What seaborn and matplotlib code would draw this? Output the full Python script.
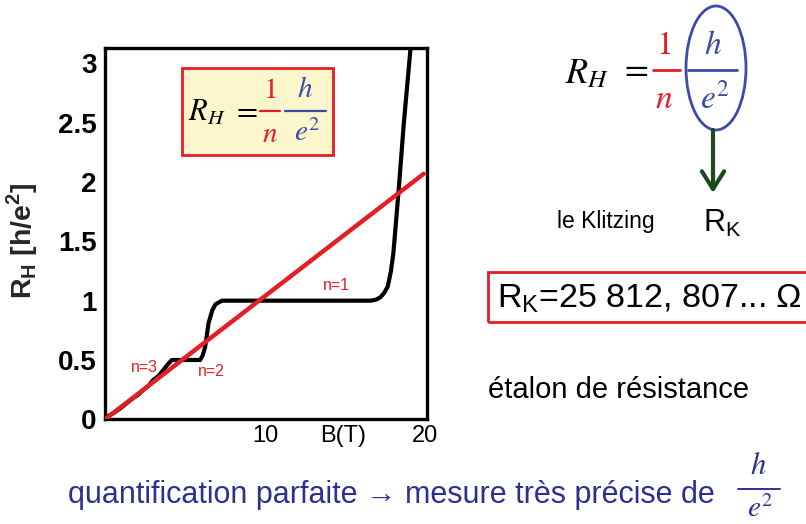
import matplotlib
matplotlib.use("Agg")
import matplotlib.pyplot as plt
import seaborn as sns
import pandas as pd
from matplotlib.lines import Line2D
from matplotlib.patches import Rectangle, Ellipse, FancyArrowPatch

# ---- data ----
B_curve = [0.0, 0.1, 0.5, 0.94, 1.3, 1.77, 2.1, 2.4, 2.7, 3.0, 3.3, 3.64, 3.9, 4.17,
           5.0, 5.94, 6.1, 6.25, 6.35, 6.46, 6.7, 6.9, 7.3, 10.0, 14.0, 16.6, 16.95, 17.2,
           17.45, 17.65, 17.85, 18.0, 18.33, 18.65, 19.06, 19.15]
R_curve = [0.0, 0.02, 0.05, 0.09, 0.13, 0.18, 0.21, 0.25, 0.28, 0.33, 0.36, 0.415, 0.46, 0.5,
           0.5, 0.5, 0.54, 0.61, 0.70, 0.81, 0.92, 0.97, 1.0, 1.0, 1.0, 1.0, 1.01, 1.03,
           1.07, 1.12, 1.25, 1.40, 1.93, 2.49, 3.11, 3.25]
B_line = [0.0, 19.9]
R_line = [0.0, 2.07]
y_ticks = [0, 0.5, 1, 1.5, 2, 2.5, 3]
y_tick_labels = ["0", "0.5", "1", "1.5", "2", "2.5", "3"]
x_ticks = [10, 20]
x_tick_labels = ["10", "20"]
plateau_labels = ["n=1", "n=2", "n=3"]

df_curve = pd.DataFrame({"B": B_curve, "R": R_curve})
df_line = pd.DataFrame({"B": B_line, "R": R_line})

sns.set_theme(style="white")
plt.rcParams["font.family"] = ["Liberation Sans", "DejaVu Sans"]
plt.rcParams["mathtext.fontset"] = "custom"
plt.rcParams["mathtext.rm"] = "Liberation Sans"
plt.rcParams["mathtext.bf"] = "Liberation Sans:bold"

W, H = 806, 524
fig = plt.figure(figsize=(W / 100, H / 100), dpi=100)
fig.patch.set_facecolor("white")

L, R_, T_, Bt = 105, 427, 48, 419.3
ax = fig.add_axes([L / W, 1 - Bt / H, (R_ - L) / W, (Bt - T_) / H])
ax.set_facecolor("white")

RED = "#E31E24"
BLUE = "#3B4BA6"
DBLUE = "#2D3090"
GREEN = "#1C4A1C"

sns.lineplot(data=df_curve, x="B", y="R", sort=False, color="black", lw=3, ax=ax, zorder=2)
sns.lineplot(data=df_line, x="B", y="R", sort=False, color=RED, lw=3.2, ax=ax, zorder=3)

ax.set_xlim(0, 20.1)
ax.set_ylim(0, 3.13)
for s in ax.spines.values():
    s.set_linewidth(2.4)
    s.set_color("black")
ax.set_yticks(y_ticks)
ax.set_yticklabels(y_tick_labels, fontsize=20, fontweight="bold")
ax.set_xticks(x_ticks)
ax.set_xticklabels(x_tick_labels, fontsize=17)
ax.tick_params(axis="y", direction="in", length=12, width=2.2, pad=6, colors="black")
ax.tick_params(axis="x", direction="in", length=13, width=2.2, pad=4, colors="black")
ax.set_xlabel("")
ax.set_ylabel(r"R$_\mathbf{H}$ [h/e$^\mathbf{2}$]", fontsize=20.5, fontweight="bold")
ax.yaxis.set_label_coords(-0.203, 0.48)


def P(x, y):
    return (x / W, 1 - y / H)


def T(x, y, s, **kw):
    kw.setdefault("ha", "center")
    kw.setdefault("va", "center")
    return fig.text(x / W, 1 - y / H, s, **kw)


def HL(x1, x2, y, color, lw=1.6):
    fig.add_artist(Line2D([x1 / W, x2 / W], [1 - y / H, 1 - y / H],
                          transform=fig.transFigure, color=color, lw=lw, zorder=6))


# B(T) label
T(343, 436, "B(T)", fontsize=17, color="black")

# plateau labels
T(336, 285, plateau_labels[0], fontsize=11.5, color=RED)
T(211, 371, plateau_labels[1], fontsize=11.5, color=RED)
T(144, 367, plateau_labels[2], fontsize=11.5, color=RED)

# formula box in plot
fig.add_artist(Rectangle(P(182, 155), 151 / W, 87 / H, transform=fig.transFigure,
                         facecolor="#FBF6CC", edgecolor=RED, lw=2, zorder=5))
mf = "stix"
T(207, 113, r"$R_H$", fontsize=22, color="black", math_fontfamily=mf, zorder=7)
T(245, 111, r"$=$", fontsize=22, color="black", math_fontfamily=mf, zorder=7)
T(270, 90, r"$1$", fontsize=21, color=RED, math_fontfamily=mf, zorder=7)
HL(260, 280, 111, RED)
T(270, 134, r"$n$", fontsize=21, color=RED, math_fontfamily=mf, zorder=7)
T(305, 89, r"$h$", fontsize=21, color=BLUE, math_fontfamily=mf, zorder=7)
HL(285, 326, 111, BLUE)
T(307, 133, r"$e^2$", fontsize=21, color=BLUE, math_fontfamily=mf, zorder=7)

# right formula
T(587, 74, r"$R_H$", fontsize=26, color="black", math_fontfamily=mf)
T(634, 69, r"$=$", fontsize=25, color="black", math_fontfamily=mf)
T(664, 46, r"$1$", fontsize=24, color=RED, math_fontfamily=mf)
HL(653, 680, 70, RED, lw=2)
T(664, 100, r"$n$", fontsize=24, color=RED, math_fontfamily=mf)
T(713, 45, r"$h$", fontsize=24, color=BLUE, math_fontfamily=mf)
HL(688, 737, 70, BLUE, lw=2)
T(715, 99, r"$e^2$", fontsize=24, color=BLUE, math_fontfamily=mf)
fig.add_artist(Ellipse(P(716, 68), 60 / W, 124 / H, transform=fig.transFigure,
                       fill=False, edgecolor=BLUE, lw=2, zorder=6))
fig.add_artist(FancyArrowPatch(
    P(713, 130), P(713, 193), transform=fig.transFigure,
    arrowstyle="->,head_length=8,head_width=5", color=GREEN, lw=3, zorder=6,
    mutation_scale=1.6, shrinkA=0, shrinkB=0))

T(557, 228, "le Klitzing", fontsize=16.5, color="black", ha="left", va="baseline")
T(703, 232, r"R$_\mathrm{K}$", fontsize=22, color="black", ha="left", va="baseline")

# R_K box
fig.add_artist(Rectangle(P(488, 322), 330 / W, 50 / H, transform=fig.transFigure,
                         facecolor="none", edgecolor=RED, lw=2, zorder=5))
T(497, 307, r"R$_\mathrm{K}$=25 812, 807... Ω", fontsize=24.5, color="black",
  ha="left", va="baseline")

T(488, 398, "étalon de résistance", fontsize=21, color="black", ha="left", va="baseline")

# bottom line
T(68, 503, "quantification parfaite → mesure très précise de", fontsize=22,
  color=DBLUE, ha="left", va="baseline")
T(758, 466, r"$h$", fontsize=22, color=DBLUE, math_fontfamily=mf)
HL(738, 780, 489, DBLUE, lw=1.4)
T(760, 509, r"$e^2$", fontsize=21, color=DBLUE, math_fontfamily=mf)

fig.savefig("out.png", dpi=100)
